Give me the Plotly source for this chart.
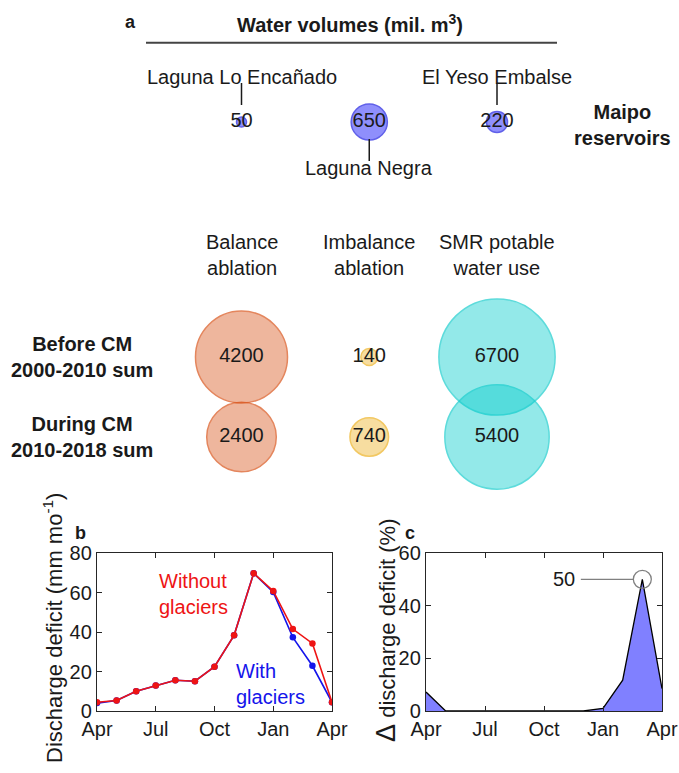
import plotly.graph_objects as go

# ---------------- data ----------------
reservoir_names = ["Laguna Lo Encañado", "Laguna Negra", "El Yeso Embalse"]
reservoir_volumes = [50, 650, 220]

column_labels = ["Balance<br>ablation", "Imbalance<br>ablation", "SMR potable<br>water use"]
period_labels = ["Before CM<br>2000-2010 sum", "During CM<br>2010-2018 sum"]
balance_ablation = [4200, 2400]
imbalance_ablation = [140, 740]
smr_water_use = [6700, 5400]

month_index = [0, 1, 2, 3, 4, 5, 6, 7, 8, 9, 10, 11, 12]
month_tick_pos = [0, 3, 6, 9, 12]
month_tick_labels = ["Apr", "Jul", "Oct", "Jan", "Apr"]
deficit_without = [4.4, 5.3, 10.0, 12.9, 15.6, 15.1, 22.4, 38.3, 69.7, 60.8, 41.5, 34.2, 4.4]
deficit_with = [4.0, 5.3, 10.0, 12.9, 15.6, 15.1, 22.4, 38.3, 69.7, 60.2, 37.3, 22.9, 4.4]
delta_deficit = [7.2, 0, 0, 0, 0, 0, 0, 0, 0, 1.0, 11.7, 50, 8.5]

# ---------------- layout helpers ----------------
W, H = 679, 773
FONT = "Liberation Sans, Arial, Helvetica, sans-serif"
INK = "#1a1a1a"

def px_x(p):
    return p / W

def px_y(p):
    return 1 - p / H

# panel a coordinate system: columns at 0,1,2 ; rows at 0 (During), 1 (Before)
COL0_PX, COL_DX = 241.5, 127.75
ROW0_PX, ROW_DY = 437.0, 80.0
A_BOTTOM_PX = 520.0
RES_Y = (ROW0_PX - 122.0) / ROW_DY
K = 1.42  # bubble diameter per sqrt(value), px
SIZEREF = 2.0 / K ** 2

fig = go.Figure()

def bubbles(xs, ys, vals, fill, edge):
    fig.add_trace(go.Scatter(
        x=xs, y=ys, mode="markers+text",
        text=[str(v) for v in vals], textposition="middle center",
        textfont=dict(size=20, color=INK, family=FONT),
        marker=dict(size=vals, sizemode="area", sizeref=SIZEREF, color=fill,
                    line=dict(color=edge, width=1.5)),
        xaxis="x3", yaxis="y3", showlegend=False, cliponaxis=False, hoverinfo="skip"))

# main grid bubbles
rows = [1, 0]
bubbles([0, 0], rows, balance_ablation, "rgba(217,83,25,0.6)", "rgb(217,83,25)")
bubbles([1, 1], rows, imbalance_ablation, "rgba(237,177,32,0.6)", "rgb(237,177,32)")
bubbles([2, 2], rows, smr_water_use, "rgba(0,203,203,0.6)", "rgb(25,205,205)")
# reservoirs
bubbles([0, 1, 2], [RES_Y] * 3, reservoir_volumes, "rgba(0,0,250,0.62)", "rgb(30,30,225)")

annotations = []
shapes = []

def note(text, x, y, xref="paper", yref="paper", size=20, color=INK, **kw):
    d = dict(text=text, x=x, y=y, xref=xref, yref=yref, showarrow=False,
             xanchor="center", yanchor="middle", font=dict(size=size, family=FONT, color=color))
    d.update(kw)
    annotations.append(d)

# panel a labels
note("<b>a</b>", px_x(130), px_y(22), size=18)
note("<b>Water volumes (mil. m<sup>3</sup>)</b>", px_x(350), px_y(24))
shapes.append(dict(type="line", xref="paper", yref="paper", x0=px_x(146), x1=px_x(557),
                   y0=px_y(42.7), y1=px_y(42.7), line=dict(color="#444444", width=2)))
note("<b>Maipo<br>reservoirs</b>", px_x(622), px_y(124.5))

label_side = [1, -1, 1]  # above / below
for i, name in enumerate(reservoir_names):
    s = label_side[i]
    note(name, i, RES_Y + s * 45.5 / ROW_DY, xref="x3", yref="y3")
    shapes.append(dict(type="line", xref="x3", yref="y3", x0=i, x1=i,
                       y0=RES_Y + s * 17 / ROW_DY, y1=RES_Y + s * 39 / ROW_DY,
                       line=dict(color=INK, width=1.5)))

for i, lab in enumerate(column_labels):
    note(lab, i, (ROW0_PX - 254.5) / ROW_DY, xref="x3", yref="y3")
for r, lab in zip(rows, period_labels):
    note("<b>" + lab + "</b>", px_x(82), r, yref="y3")

# ---------------- panel b ----------------
fig.add_trace(go.Scatter(x=month_index, y=deficit_with, mode="lines+markers",
                         line=dict(color="rgb(20,20,235)", width=1.6),
                         marker=dict(size=6.5, color="rgb(20,20,235)"),
                         xaxis="x", yaxis="y", showlegend=False))
fig.add_trace(go.Scatter(x=month_index, y=deficit_without, mode="lines+markers",
                         line=dict(color="rgb(238,20,20)", width=1.6),
                         marker=dict(size=6.5, color="rgb(238,20,20)"),
                         xaxis="x", yaxis="y", showlegend=False))
note("Without<br>glaciers", 3.04, 59.2, xref="x", yref="y", color="rgb(238,20,20)",
     xanchor="left", align="left")
note("With<br>glaciers", 7.0, 13.9, xref="x", yref="y", color="rgb(20,20,235)",
     xanchor="left", align="left")
note("<b>b</b>", px_x(80), px_y(533), size=18)
note("Discharge deficit (mm mo<sup>-1</sup>)", px_x(53), px_y(628), size=22, textangle=-90)

# ---------------- panel c ----------------
fig.add_trace(go.Scatter(x=month_index, y=delta_deficit, mode="lines", fill="tozeroy",
                         fillcolor="rgb(128,128,255)", line=dict(color="black", width=1.3),
                         xaxis="x2", yaxis="y2", showlegend=False))
peak_i = max(range(len(delta_deficit)), key=lambda k: delta_deficit[k])
peak_v = delta_deficit[peak_i]
fig.add_trace(go.Scatter(x=[month_index[peak_i]], y=[peak_v], mode="markers",
                         marker=dict(symbol="circle-open", size=18, color="#808080",
                                     line=dict(width=1.3)),
                         xaxis="x2", yaxis="y2", showlegend=False, cliponaxis=False))
annotations.append(dict(text=f"{peak_v:g}", x=month_index[peak_i], y=peak_v, xref="x2", yref="y2",
                        showarrow=True, arrowhead=0, ax=-78, ay=0, standoff=9, borderpad=5,
                        arrowcolor="#808080", arrowwidth=1.2,
                        font=dict(size=20, family=FONT, color=INK)))
note("<b>c</b>", px_x(410), px_y(533), size=18)
note("<span style='font-size:27px'>Δ</span> discharge deficit (%)", px_x(386), px_y(631),
     size=22, textangle=-90)

axis_common = dict(showgrid=False, zeroline=False, showline=True, linecolor="#262626",
                   linewidth=1.2, mirror="ticks", ticks="inside", ticklen=5, tickcolor="#262626",
                   tickfont=dict(size=20, family=FONT, color=INK), automargin=False)

b_dom_y = [px_y(711), px_y(553)]
fig.update_layout(
    width=W, height=H,
    margin=dict(l=0, r=0, t=0, b=0, pad=0, autoexpand=False),
    paper_bgcolor="white", plot_bgcolor="rgba(0,0,0,0)",
    showlegend=False,
    xaxis=dict(domain=[px_x(97), px_x(332)], range=[0, 12], tickvals=month_tick_pos,
               ticktext=month_tick_labels, anchor="y", **axis_common),
    yaxis=dict(domain=b_dom_y, range=[0, 80], tickvals=[0, 20, 40, 60, 80], anchor="x",
               **axis_common),
    xaxis2=dict(domain=[px_x(426), px_x(662)], range=[0, 12], tickvals=month_tick_pos,
                ticktext=month_tick_labels, anchor="y2", **axis_common),
    yaxis2=dict(domain=b_dom_y, range=[0, 60], tickvals=[0, 20, 40, 60], anchor="x2",
                **axis_common),
    xaxis3=dict(domain=[0, 1], range=[-COL0_PX / COL_DX, (W - COL0_PX) / COL_DX],
                visible=False, anchor="y3", automargin=False),
    yaxis3=dict(domain=[px_y(A_BOTTOM_PX), 1],
                range=[(ROW0_PX - A_BOTTOM_PX) / ROW_DY, ROW0_PX / ROW_DY],
                visible=False, anchor="x3", automargin=False),
    annotations=annotations, shapes=shapes,
    font=dict(family=FONT, color=INK),
)

fig.write_html("out.html", config={"displayModeBar": False, "staticPlot": True},
               post_script="document.body.style.margin='0px';")
